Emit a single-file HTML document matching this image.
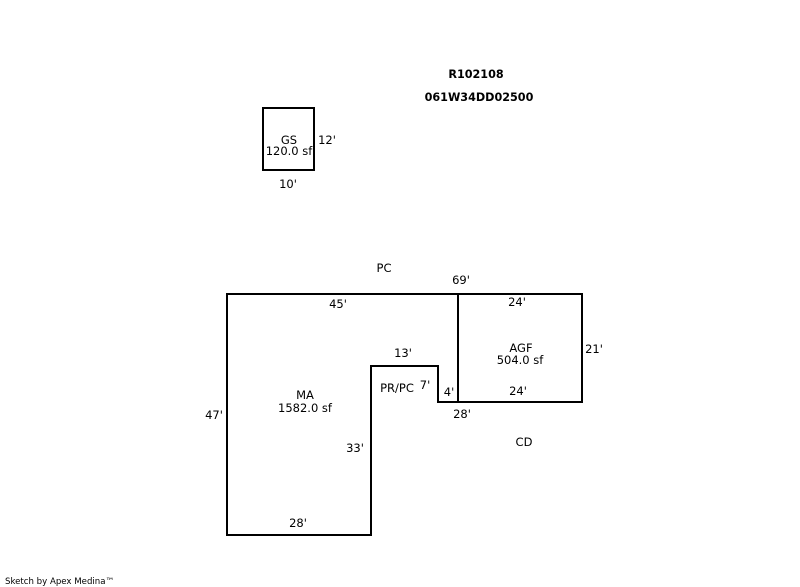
<!DOCTYPE html>
<html>
<head>
<meta charset="utf-8">
<title>Sketch</title>
<style>
html,body{margin:0;padding:0;background:#fff;width:800px;height:587px;overflow:hidden}
svg{display:block}
text{font-family:"DejaVu Sans","Liberation Sans",sans-serif;font-size:11.5px;fill:#000;text-anchor:middle}
text.b{font-weight:bold;font-size:11.2px}
text.s{font-size:8.6px;text-anchor:start}
</style>
</head>
<body>
<svg width="800" height="587" viewBox="0 0 800 587" xmlns="http://www.w3.org/2000/svg">
<g fill="none" stroke="#000" stroke-width="2" shape-rendering="crispEdges">
<rect x="263" y="108" width="51" height="62"/>
<path d="M227 294H582V402H438V366H371V535H227Z"/>
<path d="M458 294V402"/>
</g>
<text class="b" x="476" y="78">R102108</text>
<text class="b" x="479" y="101">061W34DD02500</text>
<text x="289" y="144">GS</text>
<text x="289" y="155">120.0 sf</text>
<text x="327" y="144">12'</text>
<text x="288" y="188">10'</text>
<text x="384" y="272">PC</text>
<text x="461" y="284">69'</text>
<text x="338" y="308">45'</text>
<text x="517" y="306">24'</text>
<text x="521" y="352">AGF</text>
<text x="520" y="364">504.0 sf</text>
<text x="594" y="353">21'</text>
<text x="403" y="357">13'</text>
<text x="397" y="392">PR/PC</text>
<text x="425" y="389">7'</text>
<text x="449" y="396">4'</text>
<text x="518" y="395">24'</text>
<text x="462" y="418">28'</text>
<text x="524" y="446">CD</text>
<text x="305" y="399">MA</text>
<text x="305" y="412">1582.0 sf</text>
<text x="214" y="419">47'</text>
<text x="355" y="452">33'</text>
<text x="298" y="527">28'</text>
<text class="s" x="5" y="584">Sketch by Apex Medina™</text>
</svg>
</body>
</html>
